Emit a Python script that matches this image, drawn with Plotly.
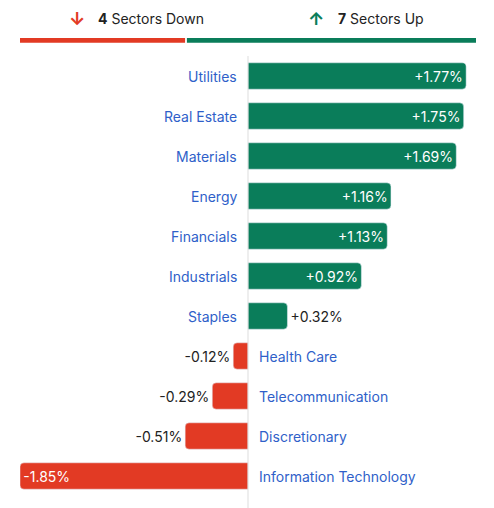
import plotly.graph_objects as go

sectors = ["Utilities", "Real Estate", "Materials", "Energy", "Financials", "Industrials",
           "Staples", "Health Care", "Telecommunication", "Discretionary", "Information Technology"]
changes = [1.77, 1.75, 1.69, 1.16, 1.13, 0.92, 0.32, -0.12, -0.29, -0.51, -1.85]
n_down = 4
n_up = 7

GREEN = "#0a7d5a"
RED = "#e23a24"
BLUE = "#2f5fc9"
DARK = "#222222"

colors = [GREEN if v > 0 else RED for v in changes]
labels = [("+%.2f%%" % v) if v > 0 else ("%.2f%%" % v) for v in changes]
positions = ["inside" if abs(v) > 0.8 else "outside" for v in changes]

fig = go.Figure(go.Bar(
    x=changes, y=sectors, orientation="h", marker_color=colors, width=0.66,
    text=labels, textposition=positions, insidetextanchor="end",
    insidetextfont=dict(color="white", size=14), outsidetextfont=dict(color=DARK, size=14),
    cliponaxis=False, hoverinfo="skip"))

# category labels on the opposite side of the zero line
for s, v in zip(sectors, changes):
    fig.add_annotation(x=0, y=s, xref="x", yref="y", text=s, showarrow=False,
                       xanchor="right" if v > 0 else "left", xshift=-9 if v > 0 else 9,
                       font=dict(color=BLUE, size=14))

# zero line
fig.add_shape(type="line", x0=0, x1=0, xref="x", y0=-0.03, y1=1.0, yref="paper",
              line=dict(color="#dddddd", width=1))

# header split bar
fig.add_shape(type="rect", xref="paper", yref="paper", x0=0, x1=0.362, y0=1.03, y1=1.041,
              fillcolor=RED, line_width=0)
fig.add_shape(type="rect", xref="paper", yref="paper", x0=0.366, x1=1, y0=1.03, y1=1.041,
              fillcolor=GREEN, line_width=0)
header = [(0.125, "<b>↓</b>", RED, 18), (0.167, "<b>%d</b> Sectors Down" % n_down, DARK, 14),
          (0.649, "<b>↑</b>", GREEN, 18), (0.693, "<b>%d</b> Sectors Up" % n_up, DARK, 14)]
for hx, ht, hc, hs in header:
    fig.add_annotation(x=hx, y=1.086, xref="paper", yref="paper", showarrow=False,
                       xanchor="center" if hs == 18 else "left", yanchor="middle",
                       text=ht, font=dict(size=hs, color=hc))

fig.update_layout(
    width=494, height=508, margin=dict(l=12, r=26, t=48, b=20),
    plot_bgcolor="white", paper_bgcolor="white", showlegend=False,
    barcornerradius=4, font=dict(family="Inter, Roboto, sans-serif", size=14, color=DARK),
    xaxis=dict(range=[-1.85, 1.85], visible=False, fixedrange=True),
    yaxis=dict(autorange="reversed", visible=False))

fig.write_html("out.html")
